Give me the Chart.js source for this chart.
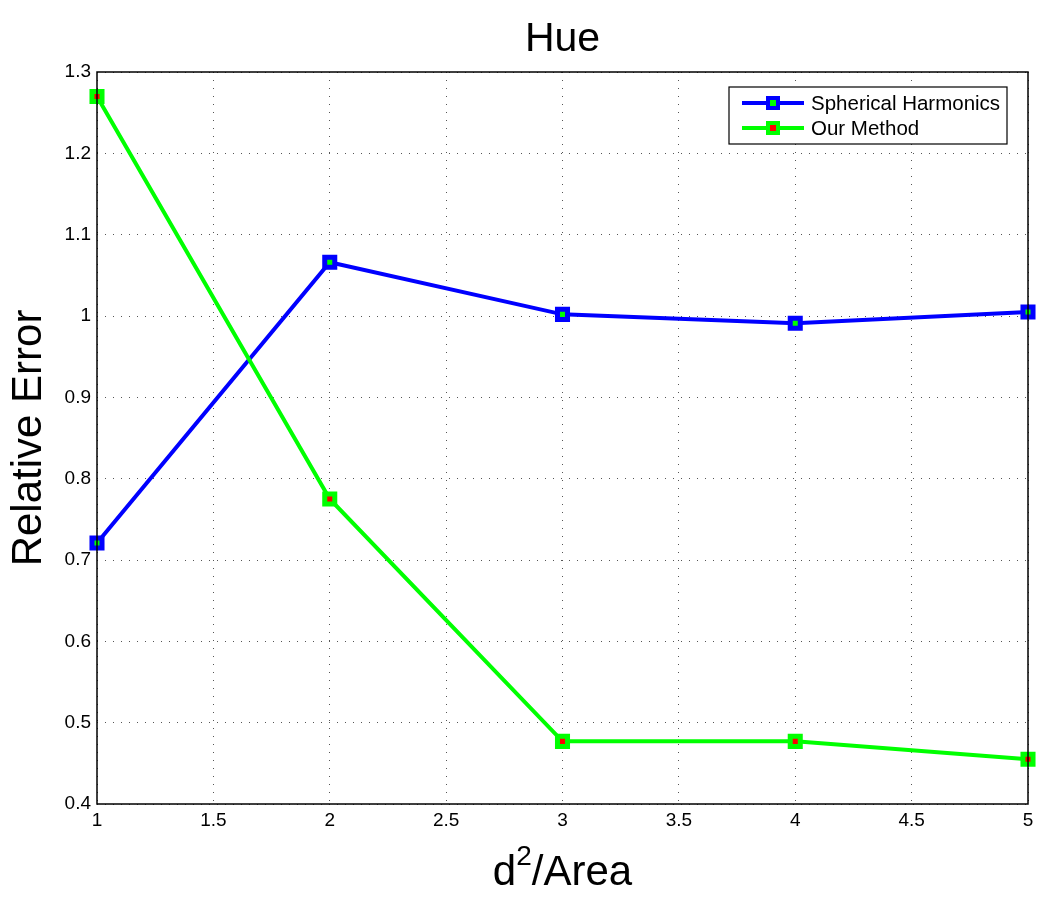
<!DOCTYPE html>
<html>
<head>
<meta charset="utf-8">
<script src="https://cdn.jsdelivr.net/npm/chart.js@4/dist/chart.umd.min.js"></script>
<style>
  html, body { margin: 0; padding: 0; background: #fff; }
  #wrap { width: 1048px; height: 900px; }
</style>
</head>
<body>
<div id="wrap"><canvas id="hueChart" width="1048" height="900"></canvas></div>
<script>
// d^2/Area values
const xValues = [1, 2, 3, 4, 5];
const sphericalHarmonics = [0.721, 1.066, 1.002, 0.991, 1.005];
const ourMethod = [1.270, 0.775, 0.477, 0.477, 0.455];
const seriesNames = ['Spherical Harmonics', 'Our Method'];
const xTicks = [1, 1.5, 2, 2.5, 3, 3.5, 4, 4.5, 5];
const yTicks = [0.4, 0.5, 0.6, 0.7, 0.8, 0.9, 1, 1.1, 1.2, 1.3];

const FONT = "'Liberation Sans', Arial, Helvetica, sans-serif";
const BLUE = '#0000ff';
const GREEN = '#00ff00';
const RED = '#ff0000';

function toPoints(xs, ys) {
  return xs.map((x, i) => ({ x: x, y: ys[i] }));
}

// box around the plot (matlab "box on")
const frameBox = {
  id: 'frameBox',
  afterDraw(chart) {
    const a = chart.chartArea;
    const ctx = chart.ctx;
    ctx.save();
    ctx.strokeStyle = '#000';
    ctx.lineWidth = 1.5;
    ctx.strokeRect(a.left, a.top, a.right - a.left, a.bottom - a.top);
    ctx.restore();
  }
};

// x title with a real superscript
const xTitle = {
  id: 'xTitle',
  afterDraw(chart) {
    const ctx = chart.ctx;
    const a = chart.chartArea;
    const cx = (a.left + a.right) / 2;
    const base = 885;
    ctx.save();
    ctx.fillStyle = '#000';
    ctx.textBaseline = 'alphabetic';
    ctx.font = '42px ' + FONT;
    const wD = ctx.measureText('d').width;
    const wRest = ctx.measureText('/Area').width;
    ctx.font = '28px ' + FONT;
    const wSup = ctx.measureText('2').width;
    let x = cx - (wD + wSup + wRest) / 2;
    ctx.textAlign = 'left';
    ctx.font = '42px ' + FONT;
    ctx.fillText('d', x, base);
    x += wD;
    ctx.font = '28px ' + FONT;
    ctx.fillText('2', x, base - 20);
    x += wSup;
    ctx.font = '42px ' + FONT;
    ctx.fillText('/Area', x, base);
    ctx.restore();
  }
};

// matlab style legend: line + marker sample inside a box
const lineLegend = {
  id: 'lineLegend',
  afterDraw(chart) {
    const ctx = chart.ctx;
    const bx = 729, by = 87, bw = 278, bh = 57;
    ctx.save();
    ctx.fillStyle = '#fff';
    ctx.fillRect(bx, by, bw, bh);
    ctx.strokeStyle = '#000';
    ctx.lineWidth = 1.2;
    ctx.strokeRect(bx, by, bw, bh);
    const rows = [
      { name: seriesNames[0], line: BLUE, fill: GREEN, y: 103 },
      { name: seriesNames[1], line: GREEN, fill: RED, y: 128 }
    ];
    rows.forEach(r => {
      ctx.strokeStyle = r.line;
      ctx.lineWidth = 4;
      ctx.beginPath();
      ctx.moveTo(742, r.y);
      ctx.lineTo(804, r.y);
      ctx.stroke();
      ctx.fillStyle = r.fill;
      ctx.fillRect(768, r.y - 5, 10, 10);
      ctx.strokeRect(768, r.y - 5, 10, 10);
      ctx.fillStyle = '#000';
      ctx.font = '20.5px ' + FONT;
      ctx.textAlign = 'left';
      ctx.textBaseline = 'middle';
      ctx.fillText(r.name, 811, r.y + 1);
    });
    ctx.restore();
  }
};

const canvas = document.getElementById('hueChart');
const chart = new Chart(canvas, {
  type: 'line',
  data: {
    datasets: [
      {
        label: seriesNames[0],
        data: toPoints(xValues, sphericalHarmonics),
        borderColor: BLUE,
        backgroundColor: GREEN,
        borderWidth: 4,
        pointStyle: 'rect',
        pointRadius: 7.1,
        pointBorderWidth: 5,
        pointBorderColor: BLUE,
        pointBackgroundColor: GREEN,
        tension: 0,
        order: 1
      },
      {
        label: seriesNames[1],
        data: toPoints(xValues, ourMethod),
        borderColor: GREEN,
        backgroundColor: RED,
        borderWidth: 4,
        pointStyle: 'rect',
        pointRadius: 7.1,
        pointBorderWidth: 5,
        pointBorderColor: GREEN,
        pointBackgroundColor: RED,
        tension: 0,
        order: 0
      }
    ]
  },
  options: {
    responsive: false,
    animation: false,
    clip: false,
    layout: { padding: { left: 0, right: 20, top: 0, bottom: 0 } },
    plugins: {
      legend: { display: false },
      tooltip: { enabled: false },
      title: {
        display: true,
        fullSize: false,
        text: 'Hue',
        color: '#000',
        font: { family: FONT, size: 41, weight: 'normal' },
        padding: { top: 15, bottom: 7.8 }
      }
    },
    scales: {
      x: {
        type: 'linear',
        min: 1,
        max: 5,
        afterBuildTicks(scale) {
          scale.ticks = xTicks.map(v => ({ value: v }));
        },
        afterFit(scale) {
          scale.height = 96;
        },
        ticks: {
          color: '#000',
          font: { family: FONT, size: 19 },
          padding: 5,
          maxRotation: 0,
          callback: v => String(v)
        },
        grid: {
          color: '#555',
          lineWidth: 1,
          drawTicks: false
        },
        border: { display: false, dash: [1, 7] }
      },
      y: {
        type: 'linear',
        min: 0.4,
        max: 1.3,
        afterBuildTicks(scale) {
          scale.ticks = yTicks.map(v => ({ value: v }));
        },
        afterFit(scale) {
          scale.width = 97;
        },
        ticks: {
          color: '#000',
          font: { family: FONT, size: 19 },
          padding: 6,
          callback: v => String(Math.round(v * 10) / 10)
        },
        grid: {
          color: '#555',
          lineWidth: 1,
          drawTicks: false
        },
        border: { display: false, dash: [1, 7] },
        title: {
          display: true,
          text: 'Relative Error',
          color: '#000',
          font: { family: FONT, size: 42 },
          padding: { top: 4, bottom: 0 }
        }
      }
    }
  },
  plugins: [frameBox, xTitle, lineLegend]
});
</script>
</body>
</html>
